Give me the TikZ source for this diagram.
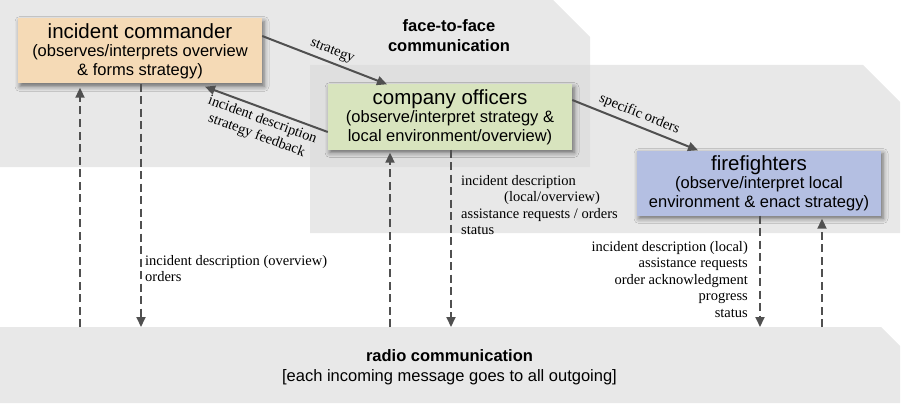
\documentclass[tikz,border=0pt]{standalone}
\usepackage{fontspec}
\setmainfont{Liberation Serif}
\newfontfamily\hv{Liberation Sans}
\usetikzlibrary{arrows.meta,shadows.blur,calc}

\definecolor{zone}{gray}{0.85}
\definecolor{ink}{HTML}{505050}
\definecolor{icfill}{HTML}{F5DAB6}
\definecolor{cofill}{HTML}{D8E4BE}
\definecolor{fffill}{HTML}{B4BFE2}

\newcommand\roletitle[1]{{\fontsize{20.5}{20.5}\selectfont #1}}

\tikzset{
  zonefill/.style={fill=zone, fill opacity=0.6, draw=none},
  rolebox/.style={minimum width=244pt, minimum height=65pt, inner sep=2pt,
    align=center, font=\hv\fontsize{16.5}{18.7}\selectfont,
    blur shadow={shadow xshift=2pt, shadow yshift=-3pt,
      shadow blur radius=5pt, shadow opacity=55}},
  flow/.style={draw=ink, line width=2pt, -{Triangle[length=10pt,width=9pt]}},
  radioflow/.style={flow, dash pattern=on 8pt off 4.5pt},
  msg/.style={font=\fontsize{14.5}{16.5}\selectfont, inner sep=0pt, text=black},
  zonetitle/.style={font=\hv\bfseries\fontsize{16.5}{19.3}\selectfont, align=center, inner sep=0pt},
  radiotext/.style={font=\hv\fontsize{16.5}{20}\selectfont, align=center, inner sep=0pt}
}

\begin{document}
\begin{tikzpicture}[x=1pt, y=-1pt]
  \useasboundingbox (0,0) rectangle (906,404);

  % communication zones
  \path[zonefill] (0,0) -- (553,0) -- (590,37) -- (590,167) -- (0,167) -- cycle;
  \path[zonefill] (310,65) -- (863,65) -- (900,102) -- (900,233) -- (310,233) -- cycle;
  \path[zonefill] (0,327) -- (881,327) -- (900,346) -- (900,403) -- (0,403) -- cycle;

  \node[zonetitle] (f2f) at (449,35.5) {face-to-face\\communication};
  \node[radiotext] (radio) at (449.5,367.5) {\textbf{radio communication}\\{}[each incoming message goes to all outgoing]};

  % roles
  \node[rolebox, fill=icfill] (ic) at (140,51)
    {\roletitle{incident commander}\\(observes/interprets overview\\\& forms strategy)};
  \node[rolebox, fill=cofill] (co) at (450,117)
    {\roletitle{company officers}\\(observe/interpret strategy \&\\local environment/overview)};
  \node[rolebox, fill=fffill] (ff) at (759,183)
    {\roletitle{firefighters}\\(observe/interpret local\\environment \& enact strategy)};

  % face-to-face messages
  \draw[flow] ($(ic.east)+(0,-15)$) --
    node[msg, sloped, above=4pt, pos=0.53] (lstrat) {strategy}
    ($(co.north)+(-63,0)$);
  \draw[flow] ($(co.west)+(0,15)$) --
    node[msg, sloped, below=4pt, align=center] (lfeed) {incident description\\strategy feedback}
    ($(ic.south)+(65,3)$);
  \draw[flow] ($(co.east)+(0,-17)$) --
    node[msg, sloped, above=4pt] (lorders) {specific orders}
    ($(ff.north)+(-61,0)$);

  % radio links
  \coordinate (r1) at (80,327);
  \coordinate (r2) at (141,327);
  \coordinate (r3) at (390,327);
  \coordinate (r4) at (451,327);
  \coordinate (r5) at (760,327);
  \coordinate (r6) at (822,327);

  \draw[radioflow] (r1) -- ($(r1 |- ic.south)+(0,4)$);
  \draw[radioflow] (r2 |- ic.south) -- (r2);
  \draw[radioflow] (r3) -- ($(r3 |- co.south)+(0,3)$);
  \draw[radioflow] (r4 |- co.south) -- (r4);
  \draw[radioflow] (r5 |- ff.south) -- (r5);
  \draw[radioflow] (r6) -- ($(r6 |- ff.south)+(0,3)$);

  % radio message contents
  \node[msg, anchor=north west, align=left] (lic) at (145,255)
    {incident description (overview)\\orders};
  \node[msg, anchor=north west, align=left] (lco) at (461,175)
    {incident description\\\hspace*{43pt}(local/overview)\\assistance requests / orders\\status};
  \node[msg, anchor=north east, align=right] (lff) at (748,241)
    {incident description (local)\\assistance requests\\order acknowledgment\\progress\\status};
\end{tikzpicture}
\end{document}
